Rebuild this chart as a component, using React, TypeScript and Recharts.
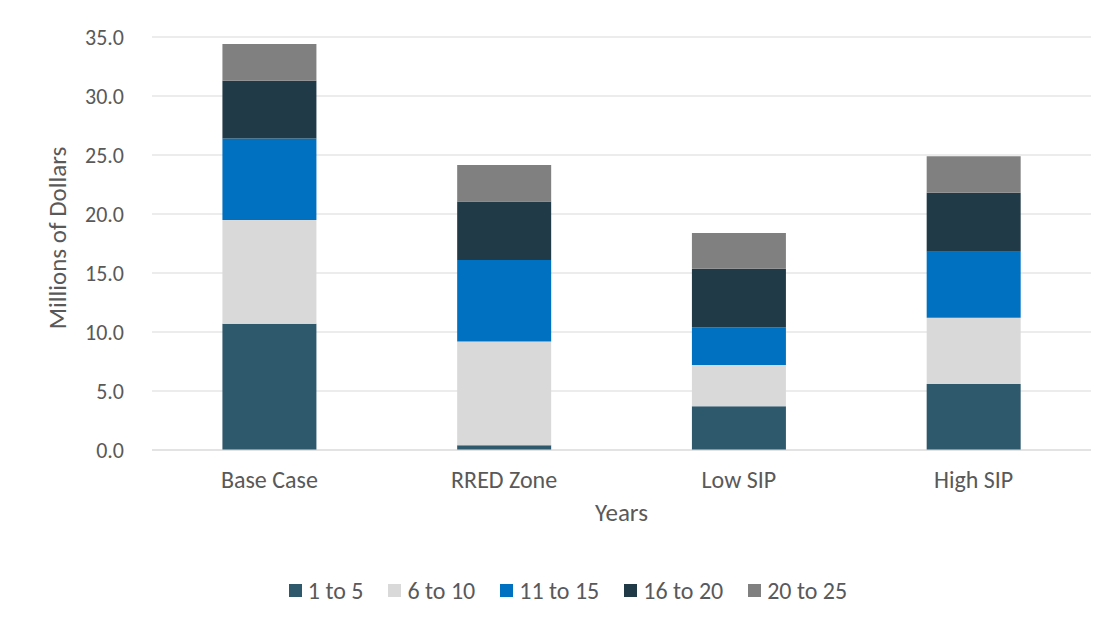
import { BarChart, Bar, XAxis, YAxis, CartesianGrid, Legend } from "recharts";

const categories = ["Base Case", "RRED Zone", "Low SIP", "High SIP"];
const years1to5 = [10.7, 0.4, 3.7, 5.6];
const years6to10 = [8.8, 8.8, 3.5, 5.6];
const years11to15 = [6.9, 6.9, 3.2, 5.6];
const years16to20 = [4.9, 4.95, 4.95, 5.0];
const years20to25 = [3.1, 3.1, 3.05, 3.1];
const yTicks = [0, 5, 10, 15, 20, 25, 30, 35];

const series = [
  { key: "y1", name: "1 to 5", color: "#2E586B", values: years1to5 },
  { key: "y2", name: "6 to 10", color: "#D9D9D9", values: years6to10 },
  { key: "y3", name: "11 to 15", color: "#0070C0", values: years11to15 },
  { key: "y4", name: "16 to 20", color: "#203A47", values: years16to20 },
  { key: "y5", name: "20 to 25", color: "#808080", values: years20to25 },
];

const data = categories.map((name, i) => {
  const row: Record<string, string | number> = { name };
  series.forEach((s) => (row[s.key] = s.values[i]));
  return row;
});

const FONT = "Calibri, Carlito, Lato, sans-serif";
const TEXT = "#595959";

function LegendBox() {
  return (
    <div
      style={{
        height: 48,
        paddingTop: 12,
        paddingLeft: 62,
        boxSizing: "border-box",
        display: "flex",
        justifyContent: "center",
        alignItems: "center",
        fontFamily: FONT,
        fontSize: 24,
        color: TEXT,
      }}
    >
      {series.map((s) => (
        <div key={s.key} style={{ display: "flex", alignItems: "center", marginRight: 25 }}>
          <span style={{ width: 13, height: 13, background: s.color, marginRight: 6, display: "inline-block" }} />
          <span>{s.name}</span>
        </div>
      ))}
    </div>
  );
}

export default function App() {
  return (
    <div
      style={{
        margin: "-1px 0 0 -1px",
        width: 1096,
        height: 608,
        borderTop: "1px solid #d9d9d9",
        borderLeft: "1px solid #d9d9d9",
        boxSizing: "border-box",
        overflow: "hidden",
        background: "#fff",
      }}
    >
      <BarChart
        width={1095}
        height={600}
        data={data}
        margin={{ top: 29, right: 12, left: 0, bottom: 0 }}
        barCategoryGap="30%"
      >
        <CartesianGrid vertical={false} stroke="#d9d9d9" strokeWidth={1.2} />
        <XAxis
          dataKey="name"
          height={110}
          axisLine={{ stroke: "#d9d9d9", strokeWidth: 1.2 }}
          tickLine={false}
          tickSize={0}
          tickMargin={21}
          tick={{ fill: TEXT, fontSize: 24, fontFamily: FONT }}
          label={(props: any) => {
            const vb = props.viewBox || {};
            return (
              <text
                x={vb.x + vb.width / 2}
                y={vb.y + 71}
                textAnchor="middle"
                fill={TEXT}
                fontSize={25}
                fontFamily={FONT}
              >
                Years
              </text>
            );
          }}
        />
        <YAxis
          width={144}
          domain={[0, 35]}
          ticks={yTicks}
          interval={0}
          axisLine={false}
          tickLine={false}
          tickSize={0}
          tickMargin={28}
          tickFormatter={(v: number) => v.toFixed(1)}
          tick={{ fill: TEXT, fontSize: 22, fontFamily: FONT }}
          label={() => (
            <text
              x={58}
              y={230}
              transform="rotate(-90, 58, 230)"
              textAnchor="middle"
              fill={TEXT}
              fontSize={25}
              fontFamily={FONT}
            >
              Millions of Dollars
            </text>
          )}
        />
        <Legend verticalAlign="bottom" content={() => <LegendBox />} />
        {series.map((s) => (
          <Bar
            key={s.key}
            dataKey={s.key}
            name={s.name}
            stackId="a"
            fill={s.color}
            isAnimationActive={false}
          />
        ))}
      </BarChart>
    </div>
  );
}
